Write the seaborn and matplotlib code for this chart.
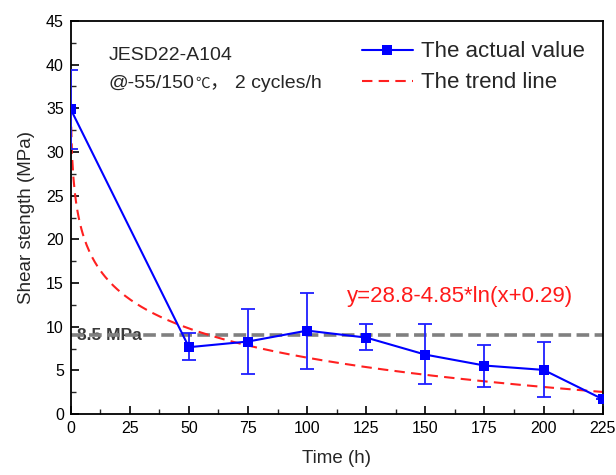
import numpy as np
import pandas as pd
import matplotlib
matplotlib.use("Agg")
import matplotlib.pyplot as plt
import seaborn as sns

# Data
time_h = [0, 50, 75, 100, 125, 150, 175, 200, 225]
strength = [34.9, 7.65, 8.3, 9.55, 8.75, 6.8, 5.55, 5.05, 1.7]
err_upper = [39.4, 9.3, 12.0, 13.9, 10.3, 10.25, 7.95, 8.25, 1.7]
err_lower = [30.4, 6.2, 4.6, 5.15, 7.35, 3.4, 3.1, 2.0, 1.7]
# trend line coefficients y = a - b*ln(x + c), as printed on the chart
trend_a, trend_b, trend_c = 28.8, 4.85, 0.29
threshold = 9.0
x_ticks = [0, 25, 50, 75, 100, 125, 150, 175, 200, 225]
y_ticks = [0, 5, 10, 15, 20, 25, 30, 35, 40, 45]

sns.set_theme(style="white")
plt.rcParams['font.family'] = ['Liberation Sans', 'Noto Sans CJK SC', 'DejaVu Sans']

fig = plt.figure(figsize=(6.16, 4.75), dpi=100)
ax = fig.add_axes([0.1148, 0.1284, 0.8636, 0.8274])

df = pd.DataFrame({"t": time_h, "s": strength})
tx = np.linspace(0, 225, 400)
trend = pd.DataFrame({"t": tx, "s": trend_a - trend_b * np.log(tx + trend_c)})

# threshold line
ax.axhline(threshold, color="#808080", lw=2.6, ls=(0, (3.5, 1.5)), zorder=1)

# trend line
sns.lineplot(data=trend, x="t", y="s", ax=ax, color="#ff2020", lw=1.5,
             linestyle=(0, (5, 3)), label="The trend line", zorder=2)

# error bars
yerr = [np.array(strength) - np.array(err_lower), np.array(err_upper) - np.array(strength)]
ax.errorbar(time_h, strength, yerr=yerr, fmt="none", ecolor="#1f1fff",
            elinewidth=1.3, capsize=5, capthick=1.3, zorder=3)

# actual values
sns.lineplot(data=df, x="t", y="s", ax=ax, color="#0000ff", lw=1.5, marker="s",
             markersize=7.5, markeredgewidth=0, label="The actual value", zorder=4)

ax.set_xlim(0, 225)
ax.set_ylim(0, 45)
ax.set_xticks(x_ticks)
ax.set_yticks(y_ticks)
ax.set_xticks(np.arange(12.5, 225, 25), minor=True)
ax.set_yticks(np.arange(2.5, 45, 5), minor=True)
ax.tick_params(axis="both", which="major", direction="in", length=6, width=1.2,
               labelsize=11.5, colors="black", pad=5, top=False, right=False,
               bottom=True, left=True)
ax.tick_params(axis="both", which="minor", direction="in", length=3.5, width=1.0,
               top=False, right=False, bottom=True, left=True)
for sp in ax.spines.values():
    sp.set_color("black")
    sp.set_linewidth(1.3)

ax.set_xlabel("Time (h)", fontsize=13.5, labelpad=10)
ax.set_ylabel("Shear stength (MPa)", fontsize=13.5, labelpad=8)

# legend (actual value first)
handles, labels = ax.get_legend_handles_labels()
order = [labels.index("The actual value"), labels.index("The trend line")]
leg = ax.legend([handles[i] for i in order], [labels[i] for i in order],
                loc="upper left", bbox_to_anchor=(0.547, 0.948), frameon=False,
                fontsize=16, handlelength=2.3, handletextpad=0.35,
                labelspacing=0.45, borderaxespad=0, borderpad=0)

ax.text(0.0707, 0.913, "JESD22-A104", transform=ax.transAxes, fontsize=14,
        va="center", ha="left")
t1 = ax.text(0.0707, 0.842, "@-55/150", transform=ax.transAxes,
             fontsize=14, va="center", ha="left")
t2 = ax.annotate("\u2103", xy=(1, 0), xycoords=t1, xytext=(0.5, 0.6),
                 textcoords="offset points", fontsize=10.5, va="bottom", ha="left")
ax.annotate("\uff0c 2 cycles/h", xy=(1, 0), xycoords=t2, xytext=(0, -0.6),
            textcoords="offset points", fontsize=14, va="bottom", ha="left")
ax.text(0.52, 0.2985, "y=28.8-4.85*ln(x+0.29)", transform=ax.transAxes,
        fontsize=16, color="#ff1a1a", va="center", ha="left")
ax.text(2.5, threshold, "8.5 MPa", fontsize=12.5, color="#3a3a3a",
        fontweight="bold", va="center", ha="left", zorder=0.9)

fig.savefig("out.png", dpi=100)
